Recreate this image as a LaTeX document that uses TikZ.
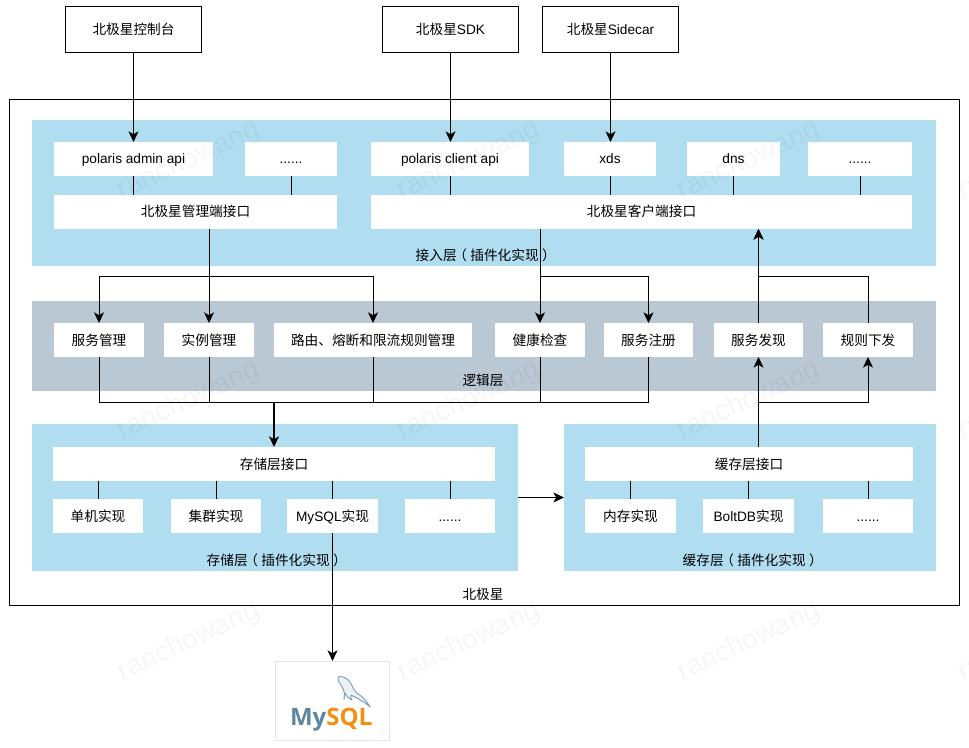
\documentclass[tikz,border=0pt]{standalone}
\usepackage{fontspec}
\setmainfont{Liberation Sans}
\newfontfamily\cn{Noto Sans CJK SC}
\newfontfamily\logofont{Open Sans}
\usetikzlibrary{arrows.meta,calc}
\definecolor{layerblue}{HTML}{B1DDF0}
\definecolor{layergray}{HTML}{BAC8D3}
\definecolor{logoblue}{HTML}{5D87A1}
\definecolor{logoorange}{HTML}{F29111}
\newcommand{\lp}{\kern-.25em（\kern.25em}
\newcommand{\rp}{\kern.25em）\kern-.25em}
\tikzset{
  x=0.75pt,y=-0.75pt,
  every node/.style={font=\fontsize{10.25pt}{12pt}\selectfont,inner sep=0pt,outer sep=0pt,text=black,text height=9pt,text depth=1.5pt},
  layer/.style={fill=#1,draw=none},
  whitebox/.style={fill=white,draw=none},
  outline/.style={fill=white,draw=black,line width=0.75pt},
  conn/.style={draw=black,line width=0.75pt},
  arr/.style={conn,-{Stealth[length=8pt,width=7.5pt,inset=2.2pt]}},
  wm/.style={text=black,text opacity=0.035,rotate=25,font=\fontsize{21pt}{23pt}\selectfont},
}
\newcommand{\bx}[6][whitebox]{\node[#1,minimum width=#5*0.75pt-#3*0.75pt,minimum height=34*0.75pt,anchor=north west] (#2) at (#3,#4) {#6};}
\begin{document}
\begin{tikzpicture}
\useasboundingbox (0,0) rectangle (969,748);
% outer frame
\node[outline,fill=none,minimum width=950*0.75pt,minimum height=506*0.75pt,anchor=north west] (frame) at (9.5,99.5) {};
\node (frametxt) at (483,594) {\cn 北极星};
% layers
\node[layer=layerblue,minimum width=904*0.75pt,minimum height=146*0.75pt,anchor=north west] (access) at (32,120) {};
\node[layer=layergray,minimum width=904*0.75pt,minimum height=90*0.75pt,anchor=north west] (logic) at (32,301) {};
\node[layer=layerblue,minimum width=486*0.75pt,minimum height=147*0.75pt,anchor=north west] (store) at (32,424) {};
\node[layer=layerblue,minimum width=372*0.75pt,minimum height=147*0.75pt,anchor=north west] (cache) at (564,424) {};
\node (accesstxt) at (484,255.7) {\cn 接入层\lp 插件化实现\rp};
\node (logictxt) at (483,380) {\cn 逻辑层};
\node (storetxt) at (275,560.7) {\cn 存储层\lp 插件化实现\rp};
\node (cachetxt) at (751,560.7) {\cn 缓存层\lp 插件化实现\rp};
% top boxes
\node[outline,minimum width=136*0.75pt,minimum height=46*0.75pt,anchor=north west] (console) at (65.5,6.5) {\cn 北极星控制台};
\node[outline,minimum width=136*0.75pt,minimum height=46*0.75pt,anchor=north west] (sdk) at (382.5,6.5) {{\cn 北极星}SDK};
\node[outline,minimum width=136*0.75pt,minimum height=46*0.75pt,anchor=north west] (sidecar) at (542.5,6.5) {{\cn 北极星}Sidecar};
% access layer
\bx{adminapi}{54}{142}{213}{polaris admin api}
\bx{admindots}{245}{142}{337}{......}
\bx{clientapi}{371}{142}{529}{polaris client api}
\bx{xds}{564}{142}{656}{xds}
\bx{dns}{687}{142}{780}{dns}
\bx{clientdots}{808}{142}{912}{......}
\bx{adminif}{54}{195}{337}{\cn 北极星管理端接口}
\bx{clientif}{371}{195}{912}{\cn 北极星客户端接口}
% logic layer
\bx{svcmgr}{54}{323}{144}{\cn 服务管理}
\bx{instmgr}{164}{323}{254}{\cn 实例管理}
\bx{rulemgr}{274}{323}{472}{\cn 路由、熔断和限流规则管理}
\bx{health}{495}{323}{585}{\cn 健康检查}
\bx{register}{604}{323}{693}{\cn 服务注册}
\bx{discover}{714}{323}{803}{\cn 服务发现}
\bx{ruledown}{823}{323}{913}{\cn 规则下发}
% store layer
\bx{storeif}{53}{447}{495}{\cn 存储层接口}
\bx{single}{53}{499}{143}{\cn 单机实现}
\bx{cluster}{171}{499}{261}{\cn 集群实现}
\bx{mysqlimpl}{287}{499}{378}{MySQL{\cn 实现}}
\bx{storedots}{405}{499}{495}{......}
% cache layer
\bx{cacheif}{585}{447}{913}{\cn 缓存层接口}
\bx{memory}{585}{499}{676}{\cn 内存实现}
\bx{boltdb}{703}{499}{794}{BoltDB{\cn 实现}}
\bx{cachedots}{823}{499}{913}{......}
% logo
\node[draw=black!10,fill=white,line width=0.75pt,minimum width=114*0.75pt,minimum height=79*0.75pt,anchor=north west] (logo) at (275,661) {};
\node[anchor=base west,font=\logofont\bfseries\fontsize{18pt}{22pt}\selectfont,text=logoblue,text height=14pt,text depth=4pt] (logotext) at (290,725.5) {My\textcolor{logoorange}{SQL}};
\node[anchor=base west,font=\fontsize{3pt}{3pt}\selectfont,text=logoorange,text height=2pt,text depth=0pt] (logotm) at (367,725.5) {TM};
\draw[logoblue!85,line width=0.65pt,line join=round,fill=logoblue!12]
  (338,677) .. controls (342,675.5) and (347,678) .. (350,682)
  .. controls (353,687) and (354,691) .. (358,694)
  .. controls (362,696) and (366,700) .. (370,707)
  .. controls (367,704) and (364,702) .. (360,700)
  .. controls (358,698) and (354,697) .. (351,695)
  .. controls (350,697) and (351,699) .. (352,700)
  .. controls (348,698) and (346,696) .. (345,693)
  .. controls (344,696) and (344,698) .. (344,700)
  .. controls (345,694) and (344,690) .. (342,687)
  .. controls (340,684) and (338,681) .. (338,677) -- cycle;
% connectors: access layer
\draw[arr] (console.south) -- (console.south |- adminapi.north);
\draw[arr] (sdk.south) -- (sdk.south |- clientapi.north);
\draw[arr] (sidecar.south) -- (sidecar.south |- xds.north);
\draw[conn] (adminapi.south) -- (adminapi.south |- adminif.north);
\draw[conn] (admindots.south) -- (admindots.south |- adminif.north);
\draw[conn] (clientapi.south) -- (clientapi.south |- clientif.north);
\draw[conn] (xds.south) -- (xds.south |- clientif.north);
\draw[conn] (dns.south) -- (dns.south |- clientif.north);
\draw[conn] (clientdots.south) -- (clientdots.south |- clientif.north);
% connectors: access to logic
\coordinate (upbus) at (0,276.5);
\coordinate (lowbus) at (0,402.5);
\draw[arr] (instmgr.north |- adminif.south) -- (instmgr.north);
\draw[arr] (instmgr.north |- adminif.south) -- (instmgr.north |- upbus) -| (svcmgr.north);
\draw[arr] (instmgr.north |- adminif.south) -- (instmgr.north |- upbus) -| (rulemgr.north);
\draw[arr] (health.north |- clientif.south) -- (health.north);
\draw[arr] (health.north |- clientif.south) -- (health.north |- upbus) -| (register.north);
\draw[arr] (discover.north) -- (discover.north |- clientif.south);
\draw[arr] (ruledown.north) |- (discover.north |- upbus) -- (discover.north |- clientif.south);
% connectors: logic to store
\coordinate (storein) at (274,447);
\draw[arr,line width=1.3pt] (storein |- lowbus) -- (storein);
\foreach \n in {svcmgr,instmgr,rulemgr,health,register}{
  \draw[conn] (\n.south) |- (storein |- lowbus);
}
% connectors: cache to logic
\draw[arr] (cacheif.north -| discover.south) -- (discover.south);
\draw[arr] (cacheif.north -| discover.south) -- (discover.south |- lowbus) -| (ruledown.south);
% connectors: spokes
\draw[conn] (storeif.south -| single.north) -- (single.north);
\draw[conn] (storeif.south -| cluster.north) -- (cluster.north);
\draw[conn] (storeif.south -| mysqlimpl.north) -- (mysqlimpl.north);
\draw[conn] (storeif.south -| storedots.north) -- (storedots.north);
\draw[conn] (cacheif.south -| memory.north) -- (memory.north);
\draw[conn] (cacheif.south -| boltdb.north) -- (boltdb.north);
\draw[conn] (cacheif.south -| cachedots.north) -- (cachedots.north);
% store to cache, store to mysql
\coordinate (linkrow) at (0,497.5);
\draw[arr] (store.east |- linkrow) -- (cache.west |- linkrow);
\draw[arr] (mysqlimpl.south) -- (mysqlimpl.south |- logo.north);
% watermarks
\begin{scope}
\clip (0,0) rectangle (969,748);
\foreach \mx in {190,470,750,1030}{\foreach \my in {163,403,644}{
  \node[wm] at (\mx,\my) {ranchowang};}}
\end{scope}
\end{tikzpicture}
\end{document}
